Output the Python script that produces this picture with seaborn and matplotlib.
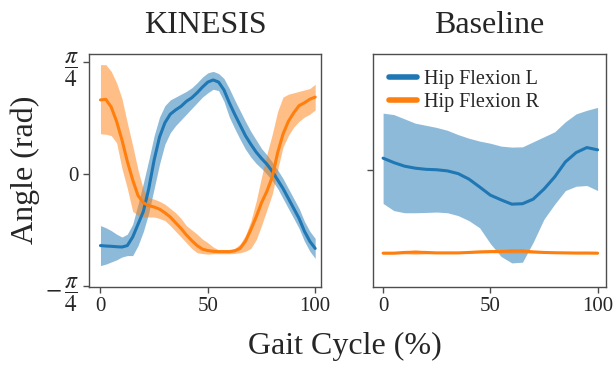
import numpy as np
import pandas as pd
import matplotlib
matplotlib.use("Agg")
import matplotlib.pyplot as plt
import seaborn as sns


# gait cycle sample points (%)
kin_pct = [0, 2.5, 5, 7.5, 10, 12.5, 15, 17.5, 20, 22.5, 25, 27.5, 30, 32.5, 35, 37.5, 40,
           42.5, 45, 47.5, 50, 52.5, 55, 57.5, 60, 62.5, 65, 67.5, 70, 72.5, 75, 77.5, 80,
           82.5, 85, 87.5, 90, 92.5, 95, 97.5, 100]
base_pct = [0, 5, 10, 15, 20, 25, 30, 35, 40, 45, 50,
            55, 60, 65, 70, 75, 80, 85, 90, 95, 100]

# KINESIS - hip flexion left (rad)
kin_left_mean = [-0.50, -0.503, -0.505, -0.508, -0.51, -0.50, -0.44, -0.35, -0.26, -0.10, 0.10,
                 0.26, 0.36, 0.42, 0.45, 0.475, 0.51, 0.535, 0.57, 0.61, 0.645, 0.66, 0.645,
                 0.59, 0.50, 0.42, 0.345, 0.27, 0.21, 0.155, 0.11, 0.07, 0.02, -0.04, -0.10,
                 -0.17, -0.24, -0.31, -0.40, -0.47, -0.52]
kin_left_hi = [-0.36, -0.375, -0.395, -0.42, -0.44, -0.42, -0.35, -0.21, -0.06, 0.10, 0.27,
               0.40, 0.48, 0.52, 0.54, 0.56, 0.58, 0.605, 0.64, 0.68, 0.71, 0.72, 0.705,
               0.67, 0.60, 0.52, 0.445, 0.37, 0.30, 0.24, 0.18, 0.135, 0.085, 0.03, -0.03,
               -0.10, -0.17, -0.24, -0.33, -0.40, -0.45]
kin_left_lo = [-0.64, -0.63, -0.615, -0.60, -0.58, -0.57, -0.57, -0.50, -0.40, -0.27, -0.10,
               0.07, 0.21, 0.29, 0.34, 0.38, 0.42, 0.46, 0.50, 0.54, 0.57, 0.595, 0.585,
               0.51, 0.40, 0.32, 0.245, 0.175, 0.12, 0.075, 0.04, 0.0, -0.045, -0.10, -0.17,
               -0.24, -0.31, -0.38, -0.47, -0.54, -0.59]

# KINESIS - hip flexion right (rad)
kin_right_mean = [0.52, 0.524, 0.47, 0.37, 0.24, 0.09, -0.04, -0.15, -0.20, -0.22, -0.23,
                  -0.245, -0.27, -0.30, -0.34, -0.38, -0.425, -0.465, -0.50, -0.525, -0.535,
                  -0.54, -0.542, -0.542, -0.542, -0.537, -0.52, -0.47, -0.39, -0.30, -0.20,
                  -0.12, -0.02, 0.15, 0.28, 0.37, 0.43, 0.48, 0.50, 0.525, 0.54]
kin_right_hi = [0.767, 0.767, 0.72, 0.64, 0.53, 0.36, 0.20, 0.03, -0.11, -0.165, -0.175,
                -0.19, -0.21, -0.24, -0.27, -0.31, -0.36, -0.39, -0.42, -0.455, -0.48,
                -0.51, -0.53, -0.53, -0.53, -0.52, -0.49, -0.43, -0.33, -0.19, -0.02,
                0.14, 0.28, 0.44, 0.54, 0.56, 0.57, 0.58, 0.59, 0.60, 0.63]
kin_right_lo = [0.283, 0.28, 0.27, 0.22, 0.04, -0.10, -0.26, -0.29, -0.30, -0.30, -0.30,
                -0.31, -0.325, -0.36, -0.40, -0.44, -0.48, -0.52, -0.55, -0.556, -0.56,
                -0.557, -0.557, -0.557, -0.557, -0.555, -0.55, -0.54, -0.52, -0.46, -0.36,
                -0.25, -0.14, 0.03, 0.19, 0.27, 0.33, 0.37, 0.40, 0.42, 0.45]

# Baseline - hip flexion left (rad)
base_left_mean = [0.086, 0.055, 0.03, 0.016, 0.008, 0.005, -0.003, -0.022, -0.06, -0.115, -0.172,
                  -0.205, -0.235, -0.232, -0.20, -0.13, -0.045, 0.06, 0.125, 0.16, 0.144]
base_left_hi = [0.40, 0.39, 0.36, 0.33, 0.315, 0.30, 0.28, 0.25, 0.225, 0.205, 0.19,
                0.17, 0.163, 0.165, 0.20, 0.235, 0.27, 0.34, 0.395, 0.42, 0.44]
base_left_lo = [-0.23, -0.28, -0.295, -0.295, -0.293, -0.29, -0.295, -0.315, -0.35, -0.40, -0.51,
                -0.60, -0.645, -0.64, -0.50, -0.34, -0.235, -0.14, -0.11, -0.105, -0.14]

# Baseline - hip flexion right (rad)
base_right_mean = [-0.577, -0.577, -0.572, -0.570, -0.572, -0.575, -0.575, -0.575, -0.572, -0.568, -0.566,
                   -0.565, -0.562, -0.562, -0.568, -0.572, -0.574, -0.575, -0.576, -0.576, -0.577]
base_right_hi = [-0.572, -0.572, -0.562, -0.555, -0.562, -0.570, -0.570, -0.570, -0.566, -0.561, -0.558,
                 -0.555, -0.547, -0.547, -0.560, -0.566, -0.569, -0.570, -0.571, -0.571, -0.572]
base_right_lo = [-0.582, -0.582, -0.582, -0.585, -0.582, -0.580, -0.580, -0.580, -0.578, -0.575, -0.574,
                 -0.575, -0.577, -0.577, -0.576, -0.578, -0.579, -0.580, -0.581, -0.581, -0.582]

labels = ["Hip Flexion L", "Hip Flexion R"]
colors = ["#1f77b4", "#ff7f0e"]

sns.set_theme(style="white")
plt.rcParams["font.family"] = ["Liberation Serif", "DejaVu Serif"]
plt.rcParams["mathtext.fontset"] = "stix"

fig = plt.figure(figsize=(6.13, 3.67), dpi=100)
ax1 = fig.add_axes([0.145, 0.218, 0.379, 0.635])
ax2 = fig.add_axes([0.6085, 0.218, 0.380, 0.635])

panels = [
    (ax1, "KINESIS", kin_pct,
     [(kin_left_mean, kin_left_lo, kin_left_hi), (kin_right_mean, kin_right_lo, kin_right_hi)]),
    (ax2, "Baseline", base_pct,
     [(base_left_mean, base_left_lo, base_left_hi), (base_right_mean, base_right_lo, base_right_hi)]),
]

for ax, title, pct, series in panels:
    for (mean, lo, hi), lab, col in zip(series, labels, colors):
        df = pd.DataFrame({"Gait": pct, "Angle": mean})
        ax.fill_between(pct, lo, hi, color=col, alpha=0.5, lw=0)
        sns.lineplot(data=df, x="Gait", y="Angle", ax=ax, color=col, lw=2.2,
                     label=lab if ax is ax2 else None)
    ax.set_title(title, fontsize=23, pad=15)
    ax.set_xlabel("")
    ax.set_ylabel("")
    ax.set_xticks([0, 50, 100])
    for s in ax.spines.values():
        s.set_color("0.3")
        s.set_linewidth(1.0)
    ax.tick_params(axis="both", which="major", labelsize=15, length=4, width=1,
                   color="0.3", left=True, bottom=True)

ax1.set_xlim(-5.4, 102.8)
ax2.set_xlim(-4.7, 103.9)
ax1.set_ylim(-0.79, 0.842)
ax1.set_yticks([-np.pi / 4, 0, np.pi / 4])
ax1.set_yticklabels([r"$-\,\dfrac{\pi}{4}$", "0", r"$\dfrac{\pi}{4}$"])
for lbl in ax1.get_yticklabels():
    if "pi" in lbl.get_text():
        lbl.set_fontsize(17)
ax2.set_ylim(-0.813, 0.813)
ax2.set_yticks([0])
ax2.set_yticklabels([])

leg = ax2.legend(loc="upper left", frameon=False, fontsize=14.5, handlelength=1.4,
                 handletextpad=0.35, labelspacing=0.2, borderaxespad=0.4)
for h in leg.get_lines():
    h.set_linewidth(4)

fig.text(0.042, 0.537, "Angle (rad)", rotation=90, fontsize=23, ha="center", va="center")
fig.text(0.563, 0.057, "Gait Cycle (%)", fontsize=23, ha="center", va="center")

fig.savefig("out.png", dpi=100)
